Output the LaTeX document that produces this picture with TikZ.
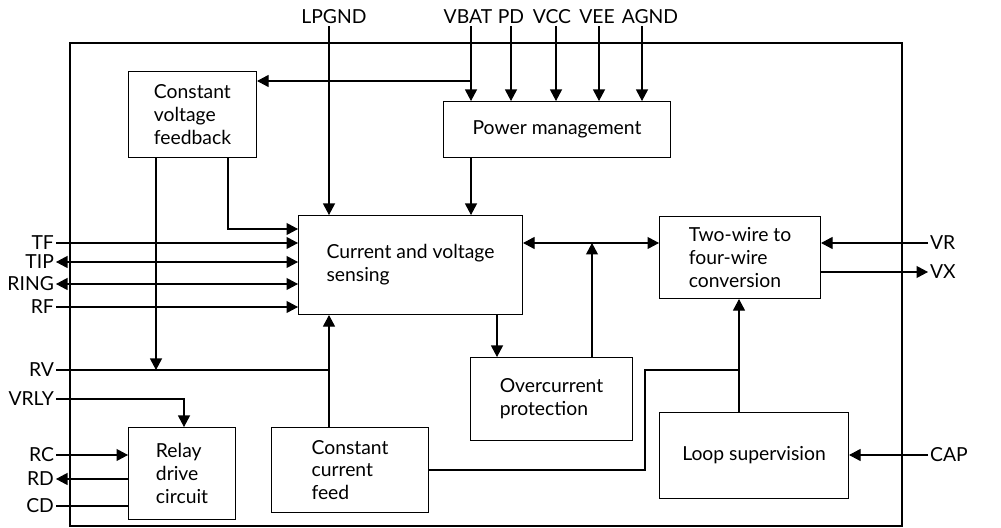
\documentclass[tikz,border=0pt]{standalone}
\usepackage{fontspec}
\setmainfont{Lato}
\usepackage{tikz}
\usetikzlibrary{arrows.meta, positioning, calc}

\begin{document}
\begin{tikzpicture}[
    x=0.2mm, y=-0.2mm,
    block/.style={rectangle, draw=black, line width=0.6pt, anchor=north west, align=left, inner sep=0pt, font=\fontsize{11}{13}\selectfont},
    pinl/.style={anchor=east, inner sep=1pt, font=\fontsize{11}{13}\selectfont},
    pinr/.style={anchor=west, inner sep=1pt, font=\fontsize{11}{13}\selectfont},
    pint/.style={anchor=base, inner sep=1pt, font=\fontsize{11}{13}\selectfont},
    wire/.style={line width=0.6pt},
    arrow/.style={line width=0.6pt, -{Triangle[length=2.3mm, width=2.4mm]}},
    biarrow/.style={line width=0.6pt, {Triangle[length=2.3mm, width=2.4mm]}-{Triangle[length=2.3mm, width=2.4mm]}}
]
    \useasboundingbox (0,0) rectangle (1001,528);
    \draw[wire] (70,43) rectangle (902,526);

    \node[block, minimum width=25.6mm, minimum height=17.2mm] (cvf) at (128,71) {Constant\\voltage\\feedback};
    \node[block, minimum width=45.4mm, minimum height=11.2mm] (pm) at (443,101) {Power management};
    \node[block, minimum width=44.8mm, minimum height=19.8mm] (csense) at (298,215) {Current and voltage\\sensing};
    \node[block, minimum width=32.2mm, minimum height=16.4mm] (twowire) at (659,216) {Two-wire to\\four-wire\\conversion};
    \node[block, minimum width=32.4mm, minimum height=16.6mm] (oc) at (470,357) {Overcurrent\\protection};
    \node[block, minimum width=21.4mm, minimum height=18.4mm] (relay) at (128,427) {Relay\\drive\\circuit};
    \node[block, minimum width=31.4mm, minimum height=17mm] (ccf) at (271,427) {Constant\\current\\feed};
    \node[block, minimum width=37.8mm, minimum height=17.2mm] (loop) at (659,412) {Loop supervision};

    % pins on top
    \node[pint] (lpgnd) at (334,24) {LPGND};
    \node[pint] (vbat) at (468,24) {VBAT};
    \node[pint] (pd) at (511,24) {PD};
    \node[pint] (vcc) at (552,24) {VCC};
    \node[pint] (vee) at (597,24) {VEE};
    \node[pint] (agnd) at (650,24) {AGND};

    % pins on the left
    \node[pinl] (tf) at (56,243) {TF};
    \node[pinl] (tip) at (56,262) {TIP};
    \node[pinl] (ring) at (56,284) {RING};
    \node[pinl] (rf) at (56,307) {RF};
    \node[pinl] (rv) at (56,370) {RV};
    \node[pinl] (vrly) at (56,399) {VRLY};
    \node[pinl] (rc) at (56,455) {RC};
    \node[pinl] (rd) at (56,479) {RD};
    \node[pinl] (cd) at (56,506) {CD};

    % pins on the right
    \node[pinr] (vr) at (928,243) {VR};
    \node[pinr] (vx) at (928,272) {VX};
    \node[pinr] (cap) at (928,455) {CAP};

    \coordinate (vbj) at (471,81);
    \coordinate (cvfa) at (228,229);
    \coordinate (cvfb) at (156,370);
    \coordinate (rvj) at (329,370);
    \coordinate (vrj) at (184,399);
    \coordinate (bend) at (645,370);
    \coordinate (lsj) at (739,370);
    \coordinate (ocj) at (592,243);
    \coordinate (csoc) at (497,340);

    \draw[arrow] (rvj |- lpgnd.south) -- (rvj |- csense.north);
    \foreach \p/\x in {vbat/471, pd/511, vcc/556, vee/599, agnd/642}
        \draw[arrow] (\x,0 |- \p.south) -- (\x,0 |- pm.north);
    \draw[arrow] (vbj) -- (vbj -| cvf.east);
    \draw[arrow] (pm.south -| vbj) -- (vbj |- csense.north);

    \draw[arrow] (cvf.south -| cvfa) -- (cvfa) -- (cvfa -| csense.west);
    \draw[arrow] (cvf.south -| cvfb) -- (cvfb);

    \draw[arrow] (tf.east) -- (tf.east -| csense.west);
    \draw[biarrow] (tip.east) -- (tip.east -| csense.west);
    \draw[biarrow] (ring.east) -- (ring.east -| csense.west);
    \draw[arrow] (rf.east) -- (rf.east -| csense.west);

    \draw[wire] (rv.east) -- (rvj);
    \draw[arrow] (ccf.north -| rvj) -- (rvj |- csense.south);
    \draw[arrow] (vrly.east) -- (vrj) -- (vrj |- relay.north);
    \draw[arrow] (rc.east) -- (rc.east -| relay.west);
    \draw[arrow] (rd.east -| relay.west) -- (rd.east);
    \draw[wire] (cd.east) -- (cd.east -| relay.west);

    \draw[biarrow] (csense.east |- ocj) -- (twowire.west |- ocj);
    \draw[arrow] (oc.north -| ocj) -- (ocj);
    \draw[arrow] (csense.south -| csoc) -- (csoc |- oc.north);

    \draw[wire] (ccf.east) -- (ccf.east -| bend) -- (bend) -- (lsj);
    \draw[arrow] (loop.north -| lsj) -- (lsj |- twowire.south);
    \draw[arrow] (cap.west) -- (cap.west -| loop.east);
    \draw[arrow] (vr.west) -- (vr.west -| twowire.east);
    \draw[arrow] (vx.west -| twowire.east) -- (vx.west);

\end{tikzpicture}
\end{document}
